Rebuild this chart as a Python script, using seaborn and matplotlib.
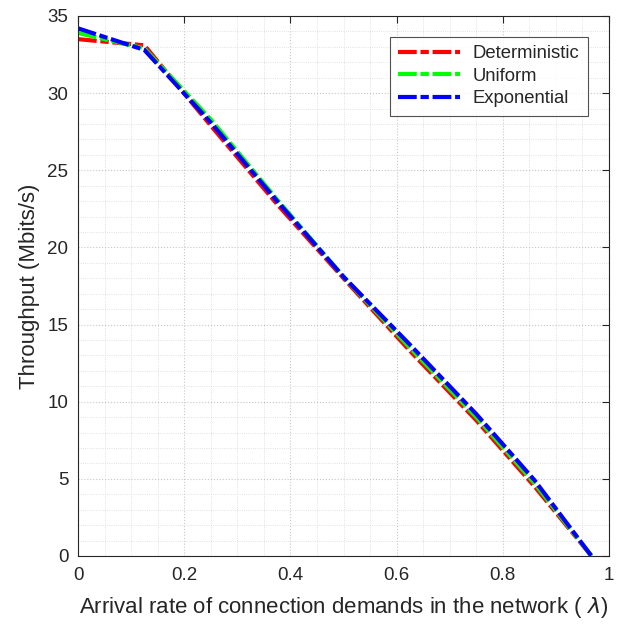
import numpy as np
import pandas as pd
import matplotlib
matplotlib.use("Agg")
import matplotlib.pyplot as plt
import seaborn as sns
from matplotlib.ticker import MultipleLocator

# arrival rate (lambda) and throughput values
arrival_rate = [0.0, 0.125, 0.25, 0.375, 0.5, 0.625, 0.75, 0.86, 0.967]
deterministic = [33.5, 33.1, 27.9, 22.8, 18.0, 13.3, 8.8, 4.5, 0.0]
uniform = [33.9, 32.9, 28.3, 23.1, 18.1, 13.5, 9.0, 4.7, 0.0]
exponential = [34.2, 32.8, 28.1, 23.0, 18.1, 13.7, 9.2, 4.9, 0.0]

series_names = ["Deterministic", "Uniform", "Exponential"]
series_colors = ["#ff0000", "#00ff00", "#0000ff"]
dash_pat = [4.5, 0.9, 2.0, 0.9]

df = pd.DataFrame({
    "lam": arrival_rate * 3,
    "thr": deterministic + uniform + exponential,
    "dist": sum([[n] * len(arrival_rate) for n in series_names], []),
})

sns.set_style("white")
plt.rcParams["font.family"] = ["Liberation Sans", "DejaVu Sans"]

fig = plt.figure(figsize=(6.18, 6.26), dpi=100)
ax = fig.add_axes([78 / 618, 70 / 626, 531 / 618, 540 / 626])

sns.lineplot(data=df, x="lam", y="thr", hue="dist", hue_order=series_names,
             palette=series_colors, linewidth=3, ax=ax, sort=False)
for line in ax.get_lines():
    line.set_dashes(dash_pat)

ax.set_xlim(0, 1)
ax.set_ylim(0, 35)
ax.xaxis.set_major_locator(MultipleLocator(0.2))
ax.xaxis.set_minor_locator(MultipleLocator(0.05))
ax.yaxis.set_major_locator(MultipleLocator(5))
ax.yaxis.set_minor_locator(MultipleLocator(1))
ax.set_xticks([0, 0.2, 0.4, 0.6, 0.8, 1.0])
ax.set_xticklabels(["0", "0.2", "0.4", "0.6", "0.8", "1"])
ax.grid(which="major", color="#c8c8c8", linestyle=":", linewidth=0.8)
ax.grid(which="minor", color="#d8d8d8", linestyle=":", linewidth=0.6)
ax.tick_params(which="both", direction="in", top=True, right=True,
               labelsize=13.5, colors="#262626")
ax.tick_params(which="major", length=5)
ax.tick_params(which="minor", length=0)
ax.tick_params(axis="x", pad=8)
ax.tick_params(axis="y", pad=7)
for s in ax.spines.values():
    s.set_color("#262626")
    s.set_linewidth(0.8)

ax.set_xlabel(r"Arrival rate of connection demands in the network ( $\lambda$)", fontsize=16, color="#262626")
ax.set_ylabel("Throughput (Mbits/s)", fontsize=16, color="#262626")
ax.xaxis.set_label_coords(0.5, -0.072)
ax.yaxis.set_label_coords(-0.071, 0.5)

leg = ax.legend(loc="upper right", bbox_to_anchor=(0.960, 0.961), fontsize=13.3,
                frameon=True, fancybox=False, edgecolor="#262626",
                handlelength=3.35, handletextpad=0.7, borderpad=0.45,
                labelspacing=0.3, borderaxespad=0)
leg.get_frame().set_linewidth(0.8)
for h in leg.get_lines():
    h.set_dashes(dash_pat)

fig.savefig("out.png", dpi=100)
